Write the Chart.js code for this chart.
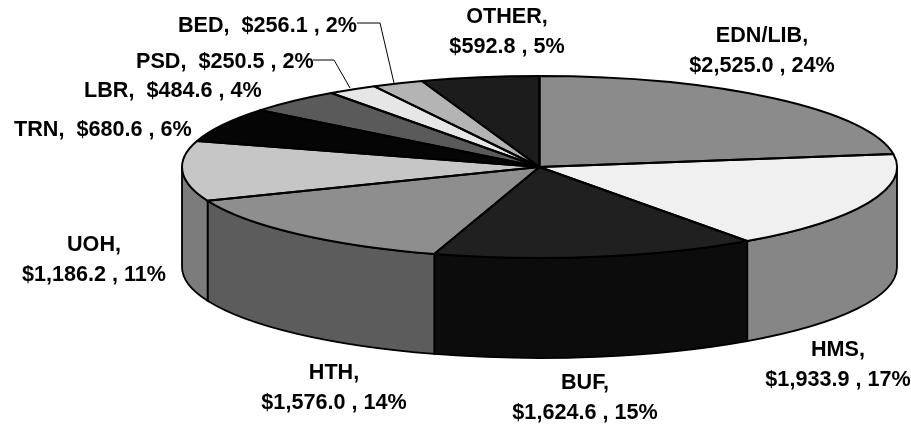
<!DOCTYPE html>
<html>
<head>
<meta charset="utf-8">
<style>html,body{margin:0;padding:0;background:#fff}canvas{display:block}</style>
<script src="https://cdn.jsdelivr.net/npm/chart.js@4/dist/chart.umd.min.js"></script>
</head>
<body>
<canvas id="c" width="911" height="425"></canvas>
<script>
const categories = ['EDN/LIB','HMS','BUF','HTH','UOH','TRN','LBR','PSD','BED','OTHER'];
const dollars    = [2525.0,1933.9,1624.6,1576.0,1186.2,680.6,484.6,250.5,256.1,592.8];
const percents   = [24,17,15,14,11,6,4,2,2,5];
const topColors  = ['#8b8b8b','#f0f0f0','#202020','#8e8e8e','#c6c6c6','#050505','#5a5a5a','#e6e6e6','#b4b4b4','#1c1c1c'];
const wallColors = ['#707070','#868686','#0c0c0c','#5c5c5c','#7c7c7c','#000000','#333333','#999999','#777777','#111111'];

// label placement: [x, baseline, align, oneLine]
const labelPlace = [
  [762,42,'center',false],[838,356,'center',false],[585,389,'center',false],
  [334,379,'center',false],[94,251,'center',false],[14,136,'left',true],
  [84,97,'left',true],[136,68,'left',true],[178,32,'left',true],[507,23,'center',false]
];
const leaders = [
  [[313,60],[334,60],[350,88]],
  [[357,23],[380,23],[394,83]]
];

const CX = 539.5, CY = 167, RX = 357.5, RY = 91, DEPTH = 100;
const money = v => '$' + v.toLocaleString('en-US',{minimumFractionDigits:1,maximumFractionDigits:1});

function squash(ctx, el) {
  const r = el.outerRadius;
  ctx.translate(CX, CY);
  ctx.scale(RX / r, RY / r);
  ctx.translate(-el.x, -el.y);
}

const pie3d = {
  id: 'pie3d',
  beforeDatasetDraw(chart) {
    const ctx = chart.ctx, arcs = chart.getDatasetMeta(0).data;
    // side wall under the visible front half of each slice
    arcs.forEach((el, i) => {
      const a = Math.max(el.startAngle, 0), b = Math.min(el.endAngle, Math.PI);
      if (b <= a) return;
      const d = DEPTH * el.outerRadius / RY;
      ctx.save();
      squash(ctx, el);
      ctx.beginPath();
      ctx.arc(el.x, el.y, el.outerRadius, a, b);
      ctx.arc(el.x, el.y + d, el.outerRadius, b, a, true);
      ctx.closePath();
      ctx.restore();
      ctx.fillStyle = wallColors[i];
      ctx.fill();
      ctx.strokeStyle = '#000';
      ctx.lineWidth = 1.8;
      ctx.stroke();
    });
    ctx.save();
    squash(ctx, arcs[0]);
  },
  afterDatasetDraw(chart) {
    const ctx = chart.ctx, arcs = chart.getDatasetMeta(0).data;
    ctx.restore();
    // even-width outlines of the squashed slices
    arcs.forEach(el => {
      ctx.save();
      squash(ctx, el);
      ctx.beginPath();
      ctx.moveTo(el.x, el.y);
      ctx.arc(el.x, el.y, el.outerRadius, el.startAngle, el.endAngle);
      ctx.closePath();
      ctx.restore();
      ctx.strokeStyle = '#000';
      ctx.lineWidth = 2;
      ctx.lineJoin = 'round';
      ctx.stroke();
    });
  },
  afterDraw(chart) {
    const ctx = chart.ctx;
    ctx.save();
    ctx.strokeStyle = '#000';
    ctx.lineWidth = 1;
    leaders.forEach(pts => {
      ctx.beginPath();
      pts.forEach((p, k) => k ? ctx.lineTo(p[0], p[1]) : ctx.moveTo(p[0], p[1]));
      ctx.stroke();
    });
    ctx.fillStyle = '#000';
    ctx.font = 'bold 21.6px "Liberation Sans", Arial, sans-serif';
    ctx.textBaseline = 'alphabetic';
    categories.forEach((c, i) => {
      const [x, y, align, one] = labelPlace[i];
      ctx.textAlign = align;
      const val = money(dollars[i]) + ' , ' + percents[i] + '%';
      if (one) {
        ctx.fillText(c + ',  ' + val, x, y);
      } else {
        ctx.fillText(c + ',', x, y);
        ctx.fillText(val, x, y + 29.5);
      }
    });
    ctx.restore();
  }
};

new Chart(document.getElementById('c'), {
  type: 'pie',
  data: {
    labels: categories,
    datasets: [{ data: dollars, backgroundColor: topColors, borderWidth: 0, hoverOffset: 0 }]
  },
  options: {
    responsive: false,
    animation: false,
    events: [],
    rotation: 0,
    plugins: { legend: { display: false }, tooltip: { enabled: false }, title: { display: false } }
  },
  plugins: [pie3d]
});
</script>
</body>
</html>
